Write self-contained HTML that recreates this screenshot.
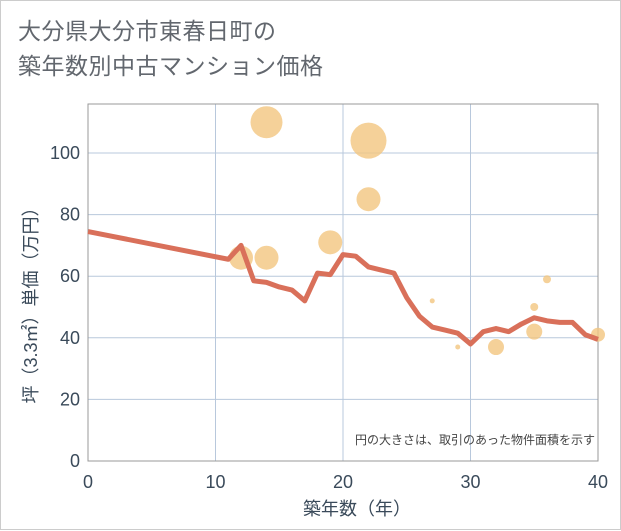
<!DOCTYPE html>
<html><head><meta charset="utf-8"><style>
body{margin:0;background:#fff}
#wrap{position:relative;width:619px;height:528px;border:1px solid #ccc;background:#fff;font-family:"Liberation Sans","Noto Sans CJK JP",sans-serif}
.title{position:absolute;left:17px;top:13px;font-size:23px;line-height:35px;color:#62676e;letter-spacing:0.5px}
svg{position:absolute;left:0;top:0}
</style></head><body>
<div id="wrap">
<div class="title">大分県大分市東春日町の<br>築年数別中古マンション価格</div>
<svg id="chart" width="621" height="530"></svg>
</div>
<script>
const lineYears=[0,11,12,13,14,15,16,17,18,19,20,21,22,23,24,25,26,27,28,29,30,31,32,33,34,35,36,37,38,39,40];
const linePrices=[74.5,65.5,70,58.5,58,56.5,55.5,52,61,60.5,67,66.5,63,62,61,53,47,43.5,42.5,41.5,38,42,43,42,44.5,46.5,45.5,45,45,41,39.5];
const bubbleYears=[12,14,14,19,22,22,27,29,32,35,35,36,40];
const bubblePrices=[66,110,66,71,104,85,52,37,37,50,42,59,41];
const bubbleSizes=[12,16,12,12,18,12,2.5,2.5,8,4,8,4,7];
const xTicks=[0,10,20,30,40];
const yTicks=[0,20,40,60,80,100];
const NS="http://www.w3.org/2000/svg";
const svg=document.getElementById('chart');
const L=87,R=597,T=103,B=460;
const xs=v=>L+(R-L)*v/40;
const ys=v=>B-v*3.08;
function mk(t,a){const e=document.createElementNS(NS,t);for(const k in a)e.setAttribute(k,a[k]);svg.appendChild(e);return e;}
const bg=mk('rect',{x:L,y:T,width:R-L,height:B-T,fill:'#fff',stroke:'#999','stroke-width':1});


xTicks.forEach(t=>{
 const g=mk('line',{x1:xs(t),x2:xs(t),y1:T,y2:B,stroke:'#b8c8dc','stroke-width':1});
 
 
 const tx=mk('text',{x:xs(t),y:B+27,'text-anchor':'middle','font-size':18,fill:'#3a4a5a'});
 tx.textContent=t;
 
 
});
yTicks.forEach(t=>{
 const g=mk('line',{x1:L,x2:R,y1:ys(t),y2:ys(t),stroke:'#b8c8dc','stroke-width':1});
 
 
 const tx=mk('text',{x:L-8,y:ys(t)+6,'text-anchor':'end','font-size':18,fill:'#3a4a5a'});
 tx.textContent=t;
 
 
});
mk('rect',{x:L,y:T,width:R-L,height:B-T,fill:'none',stroke:'#999','stroke-width':1});
bubbleYears.forEach((y,i)=>{
 const c=mk('circle',{cx:xs(y),cy:ys(bubblePrices[i]),r:bubbleSizes[i],fill:'#f3c57f','fill-opacity':0.8});
 
 
});
const p=mk('polyline',{points:lineYears.map((y,i)=>xs(y)+','+ys(linePrices[i])).join(' '),fill:'none',stroke:'#d9705a','stroke-width':5,'stroke-linejoin':'round'});


const note=mk('text',{x:R-3,y:443,'text-anchor':'end','font-size':12,fill:'#444'});
note.textContent='円の大きさは、取引のあった物件面積を示す';


const xt=mk('text',{x:(L+R)/2+14,y:514,'text-anchor':'middle','font-size':18,fill:'#3a4a5a'});
xt.textContent='築年数（年）';


const yt=mk('text',{x:0,y:0,'text-anchor':'middle','font-size':18,fill:'#3a4a5a',transform:'translate(36,300) rotate(-90)'});
yt.textContent='坪（3.3㎡）単価（万円）';


</script>
</body></html>
